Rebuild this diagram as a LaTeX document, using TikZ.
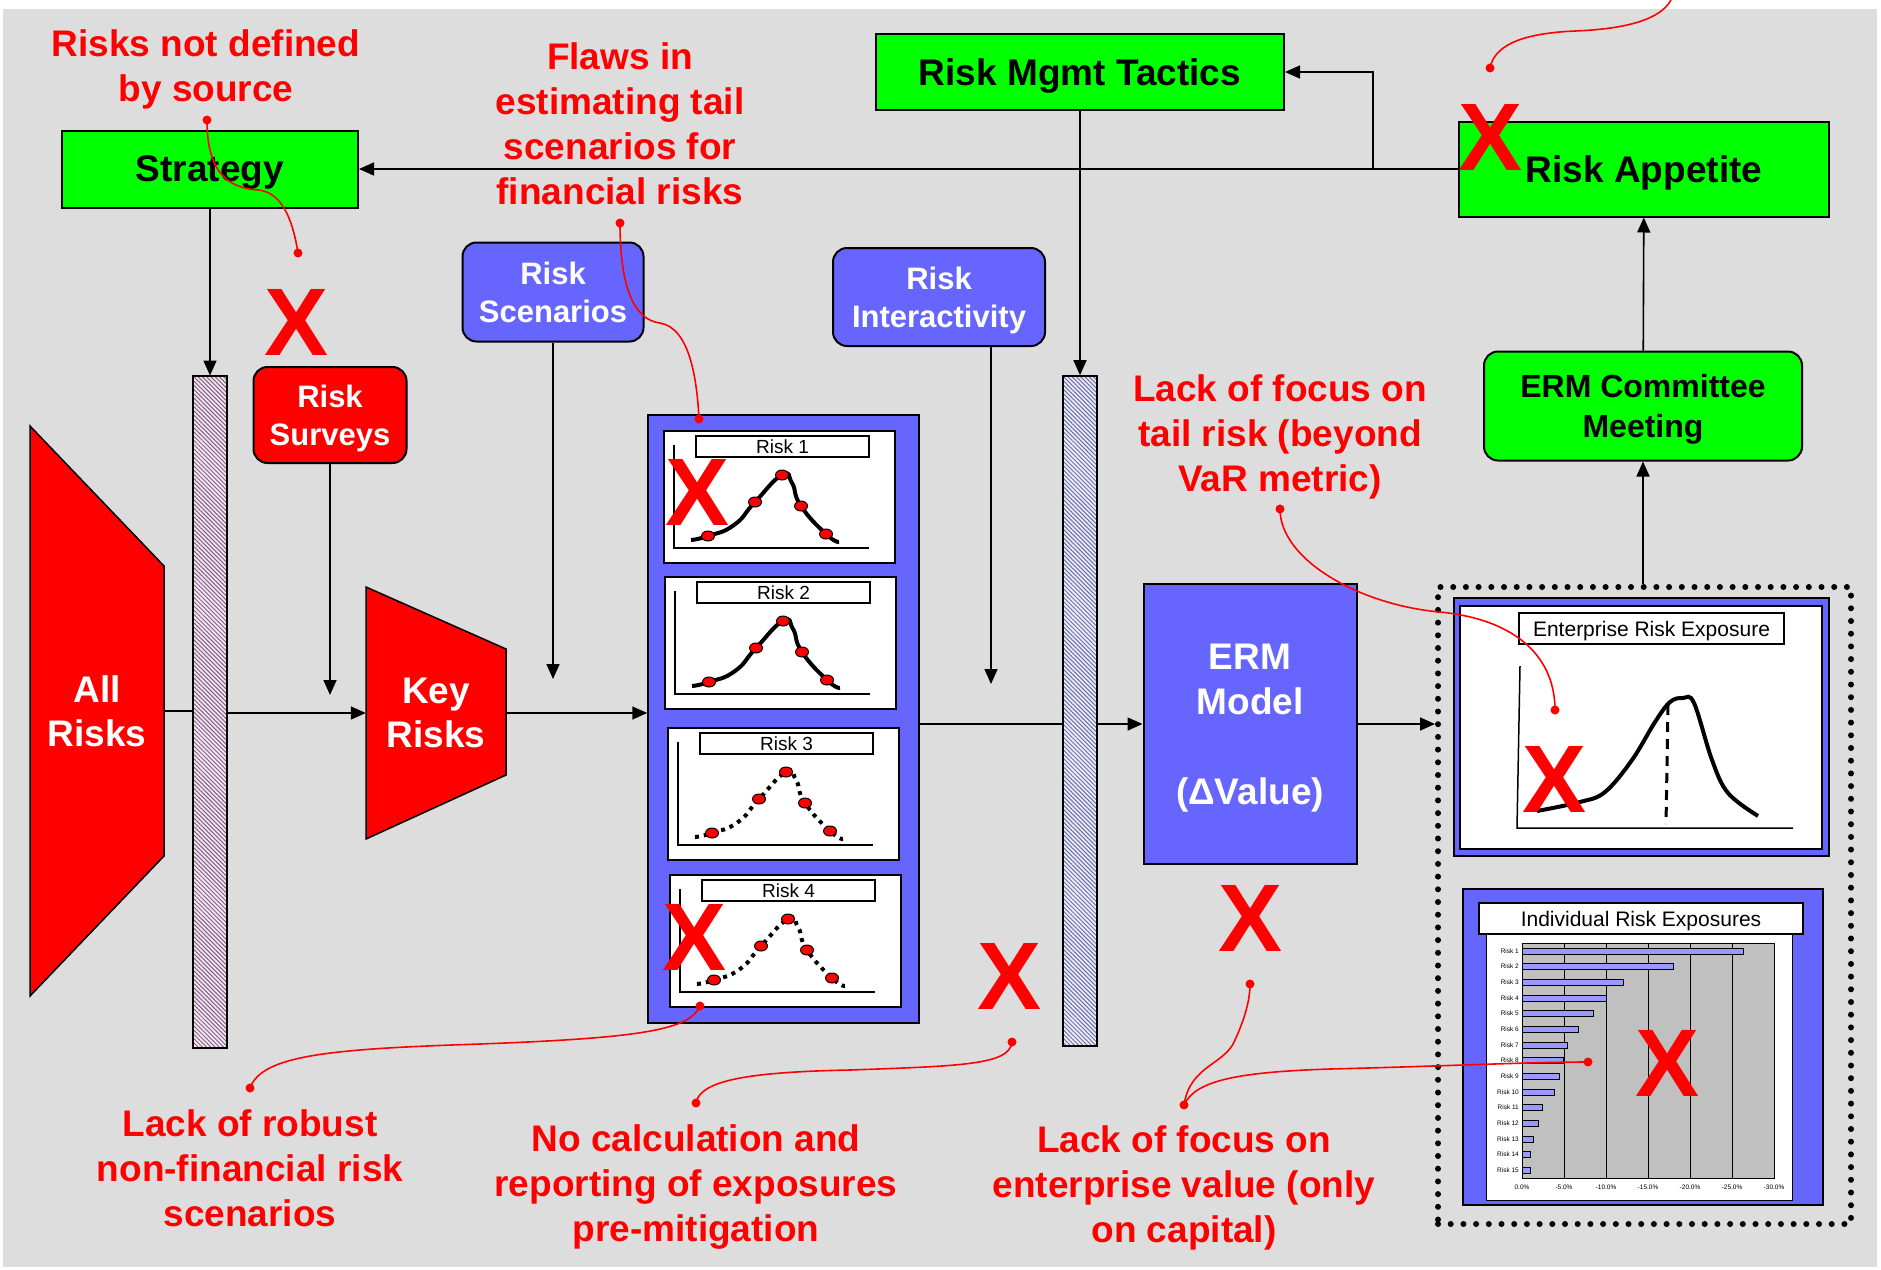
\documentclass[tikz,border=0pt]{standalone}
\usepackage{fontspec}
\setmainfont{Liberation Sans}
\usetikzlibrary{arrows.meta,shapes.geometric,patterns.meta}

\definecolor{riskgreen}{HTML}{00FF00}
\definecolor{riskred}{HTML}{FF0000}
\definecolor{riskblue}{HTML}{6666FF}
\definecolor{barblue}{HTML}{9999FF}
\definecolor{bggray}{HTML}{DDDDDD}
\definecolor{plotgray}{HTML}{C0C0C0}
\definecolor{hatchpink}{RGB}{125,100,125}
\definecolor{hatchblue}{RGB}{110,110,165}
\definecolor{barpink}{RGB}{247,228,247}
\definecolor{barpale}{RGB}{236,236,252}

\newcommand\fsize[2]{\fontsize{#1}{#2}\selectfont}

\tikzset{
    flow/.style={line width=1.6pt, -{Triangle[length=15pt,width=13pt]}},
    plain/.style={line width=1.6pt},
    greenbox/.style={draw, line width=2pt, fill=riskgreen, inner sep=0pt, text depth=0pt, align=center, font=\bfseries\fsize{37}{44}},
    roundbox/.style={draw, line width=2pt, rounded corners=14pt, inner sep=0pt, text depth=0pt, align=center, text=white, font=\bfseries\fsize{31}{38}},
    shapetext/.style={inner sep=0pt, align=center, text=white, font=\bfseries\fsize{37}{44}},
    hatchbar/.style={draw, line width=1.6pt, minimum width=34pt, inner sep=0pt, pattern={Lines[angle=-45,distance=3pt,line width=1pt]}},
    dotbox/.style={draw, line width=6pt, dash pattern=on 0pt off 12.7pt, line cap=round, inner sep=0pt},
    tag/.style={draw, line width=1.5pt, fill=white, inner sep=0pt, text depth=0pt, font=\fsize{19}{19}},
    riskdot/.style={ellipse, draw, line width=1pt, fill=riskred, minimum width=13pt, minimum height=10pt, inner sep=0pt},
    dotcurve/.style={dash pattern=on 4pt off 5pt},
    note/.style={text=riskred, align=center, text depth=0pt, font=\bfseries\fsize{37}{45}},
    pin/.style={circle, fill=riskred, inner sep=0pt, minimum size=9pt},
    link/.style={draw=riskred, line width=1.6pt},
    bigx/.style={text=riskred, inner sep=0pt, font=\bfseries\fsize{96}{96}}
}

\begin{document}
\begin{tikzpicture}[x=1pt, y=-1pt]
    \useasboundingbox (0,0) rectangle (1881,1269);
    \fill[bggray] (3,9) rectangle (1877,1267);

    \node[greenbox, minimum width=296pt, minimum height=77pt] (strategy) at (210,169) {Strategy};
    \node[greenbox, minimum width=408pt, minimum height=76pt] (tactics) at (1080,72) {Risk Mgmt Tactics};
    \node[greenbox, minimum width=370pt, minimum height=95pt] (appetite) at (1644,169) {Risk Appetite};
    \node[roundbox, fill=riskgreen, text=black, font=\bfseries\fsize{32}{40}, minimum width=318pt, minimum height=109pt] (committee) at (1643,406) {ERM Committee\\Meeting};
    \node[roundbox, fill=riskred, minimum width=153pt, minimum height=96pt] (surveys) at (330,415) {Risk\\Surveys};
    \node[roundbox, fill=riskblue, minimum width=181pt, minimum height=99pt] (scenarios) at (553,292) {Risk\\Scenarios};
    \node[roundbox, fill=riskblue, minimum width=212pt, minimum height=98pt] (interact) at (939,297) {Risk\\Interactivity};
    \node[draw, line width=2pt, fill=riskblue, minimum width=213pt, minimum height=280pt, text depth=0pt, text=white, align=center, font=\bfseries\fsize{37}{45}] (ermmodel) at (1250,724) {ERM\\Model\\\strut\\(ΔValue)};

    \node[hatchbar, minimum height=672pt, preaction={fill=barpink}, pattern color=hatchpink] (bar1) at (210,712) {};
    \node[hatchbar, minimum height=670pt, preaction={fill=barpale}, pattern color=hatchblue] (bar2) at (1080,711) {};

    \filldraw[fill=riskred, line width=1.5pt] (30,426) -- (164,566) -- (164,856) -- (30,996) -- cycle;
    \node[shapetext, minimum width=134pt, minimum height=570pt] (allrisks) at (97,711) {All\\Risks};
    \filldraw[fill=riskred, line width=1.5pt] (366,587) -- (506,649) -- (506,775) -- (366,839) -- cycle;
    \node[shapetext, minimum width=140pt, minimum height=252pt] (keyrisks) at (436,713) {Key\\Risks};

    \node[draw, line width=1.5pt, fill=riskblue, minimum width=271pt, minimum height=608pt, inner sep=0pt] (riskpanel) at (783.5,719) {};
    \foreach \i/\x/\y/\pat in {1/664/431/solid, 2/665/577/solid, 3/668/728/dotcurve, 4/670/875/dotcurve} {
        \begin{scope}[shift={(\x,\y)}]
            \draw[line width=1.5pt, fill=white] (0,0) rectangle (231,132);
            \node[tag, minimum width=173pt, minimum height=21pt] (tag\i) at (118.5,15.5) {Risk \i};
            \draw[line width=1.5pt] (10,14) -- (10,117) -- (205,117);
            \draw[line width=4pt, \pat] plot[smooth, tension=0.9] coordinates {(27,109) (44,105) (70,94) (91,71) (118,44) (128,52) (137,75) (162,103) (175,111)};
            \foreach \p in {(44,105),(91,71),(118,44),(137,75),(162,103)}
                \node[riskdot] at \p {};
        \end{scope}
    }

    \node[dotbox, minimum width=413pt, minimum height=637pt] (exposure) at (1644.5,905.5) {};
    \filldraw[fill=riskblue, line width=2pt] (1454,598) rectangle (1829,856);
    \filldraw[fill=white, line width=2pt] (1460,606) rectangle (1822,849);
    \node[tag, font=\fsize{21}{21}, minimum width=265pt, minimum height=31pt] (enttag) at (1651.5,628.5) {Enterprise Risk Exposure};
    \draw[line width=1.5pt] (1520,666) -- (1517,828) -- (1793,828);
    \draw[line width=4pt] plot[smooth, tension=0.6] coordinates {(1537,811) (1580,802) (1605,792) (1632,760) (1655,722) (1670,702) (1683,698) (1694,703) (1712,760) (1728,793) (1758,816)};
    \draw[line width=3pt, dash pattern=on 10pt off 7pt] (1668,705) -- (1666,824);

    \filldraw[fill=riskblue, line width=2pt] (1463,889) rectangle (1823,1205);
    \filldraw[fill=white, line width=1pt] (1486,934) rectangle (1792,1200);
    \node[tag, font=\fsize{21}{21}, minimum width=324pt, minimum height=31pt] (indtag) at (1641,918.5) {Individual Risk Exposures};
    \filldraw[fill=plotgray, line width=0.8pt] (1522,943) rectangle (1774,1178);
    \foreach \k in {1,...,5}
        \draw[line width=0.8pt] (1522+42*\k,943) -- (1522+42*\k,1178);
    \foreach \v [count=\i, evaluate=\i as \yy using 935.35+15.65*\i] in {26.4,18.0,12.0,10.0,8.5,6.7,5.4,4.9,4.4,3.9,2.4,1.9,1.4,1.0,1.0} {
        \filldraw[fill=barblue, line width=0.6pt] (1522,\yy-3) rectangle (1522+8.4*\v,\yy+3);
        \node[anchor=east, inner sep=1pt, font=\fsize{6.5}{6.5}] at (1520,\yy) {Risk \i};
    }
    \foreach \t [count=\k from 0] in {0.0\%,-5.0\%,-10.0\%,-15.0\%,-20.0\%,-25.0\%,-30.0\%}
        \node[font=\fsize{6.5}{6.5}] at (1522+42*\k,1187) {\t};

    \coordinate (surveysin) at (330,695);
    \coordinate (scenariosin) at (553,679);
    \coordinate (interactin) at (991,684);
    \coordinate (branch) at (1373,169);

    \draw[flow] (strategy) -- (bar1);
    \draw[plain] (allrisks.east) -- (allrisks.east -| bar1.west);
    \draw[flow] (bar1.east |- keyrisks.west) -- (keyrisks.west);
    \draw[flow] (surveys) -- (surveysin);
    \draw[flow] (keyrisks.east) -- (keyrisks.east -| riskpanel.west);
    \draw[flow] (scenarios) -- (scenariosin);
    \draw[flow] (interact.south -| interactin) -- (interactin);
    \draw[plain] (riskpanel.east |- ermmodel) -- (bar2.west |- ermmodel);
    \draw[flow] (bar2.east |- ermmodel) -- (ermmodel.west);
    \draw[flow] (ermmodel.east) -- (ermmodel.east -| exposure.west);
    \draw[flow] (committee.south |- exposure.north) -- (committee.south);
    \draw[flow] (committee) -- (appetite);
    \draw[flow] (appetite) -- (strategy);
    \draw[flow] (branch) |- (tactics.east);
    \draw[flow] (tactics) -- (bar2);

    \foreach \p [count=\k] in {(297,322),(1490,137),(698,492),(695,937),(1010,976),(1250,918),(1554,779),(1667,1063)}
        \node[bigx] (x\k) at \p {X};

    \node[note] (notdef) at (206,66) {Risks not defined\\by source};
    \node[note] (flaws) at (620,124) {Flaws in\\estimating tail\\scenarios for\\financial risks};
    \node[note] (tailrisk) at (1280,433) {Lack of focus on\\tail risk (beyond\\VaR metric)};
    \node[note] (robust) at (250,1168) {Lack of robust\\non-financial risk\\scenarios};
    \node[note] (nocalc) at (696,1183) {No calculation and\\reporting of exposures\\pre-mitigation};
    \node[note] (entvalue) at (1184,1184) {Lack of focus on\\enterprise value (only\\on capital)};

    \node[pin] (notdefA) at (207,120) {};
    \node[pin] (notdefB) at (298,253) {};
    \node[pin] (flawsA) at (620,223) {};
    \node[pin] (flawsB) at (699,419) {};
    \node[pin] (tailA) at (1280,509) {};
    \node[pin] (tailB) at (1555,710) {};
    \node[pin] (robustA) at (250,1088) {};
    \node[pin] (robustB) at (700,1006) {};
    \node[pin] (nocalcA) at (696,1103) {};
    \node[pin] (nocalcB) at (1012,1042) {};
    \node[pin] (entA) at (1184,1105) {};
    \node[pin] (entB) at (1250,984) {};
    \node[pin] (entC) at (1588,1062) {};
    \node[pin] (appA) at (1490,68) {};
    \coordinate (offpage) at (1671,0);

    \draw[link] (notdefA.center) .. controls (207,175) and (230,188) .. (258,190) .. controls (280,192) and (292,215) .. (notdefB.center);
    \draw[link] (flawsA.center) .. controls (620,290) and (635,320) .. (660,323) .. controls (690,328) and (697,380) .. (flawsB.center);
    \draw[link] (tailA.center) .. controls (1280,560) and (1360,605) .. (1440,612) .. controls (1520,620) and (1555,660) .. (tailB.center);
    \draw[link] (robustA.center) .. controls (262,1055) and (330,1049) .. (480,1044) .. controls (640,1038) and (690,1030) .. (robustB.center);
    \draw[link] (nocalcA.center) .. controls (700,1080) and (750,1072) .. (850,1070) .. controls (960,1066) and (1010,1065) .. (nocalcB.center);
    \draw[link] (entA.center) .. controls (1190,1065) and (1225,1065) .. (1235,1040) .. controls (1245,1018) and (1250,1000) .. (entB.center);
    \draw[link] (entA.center) .. controls (1195,1080) and (1240,1072) .. (1330,1069) .. controls (1450,1066) and (1530,1062) .. (entC.center);
    \draw[link] (appA.center) .. controls (1495,42) and (1530,33) .. (1575,31) .. controls (1625,29) and (1660,20) .. (offpage);
\end{tikzpicture}
\end{document}
